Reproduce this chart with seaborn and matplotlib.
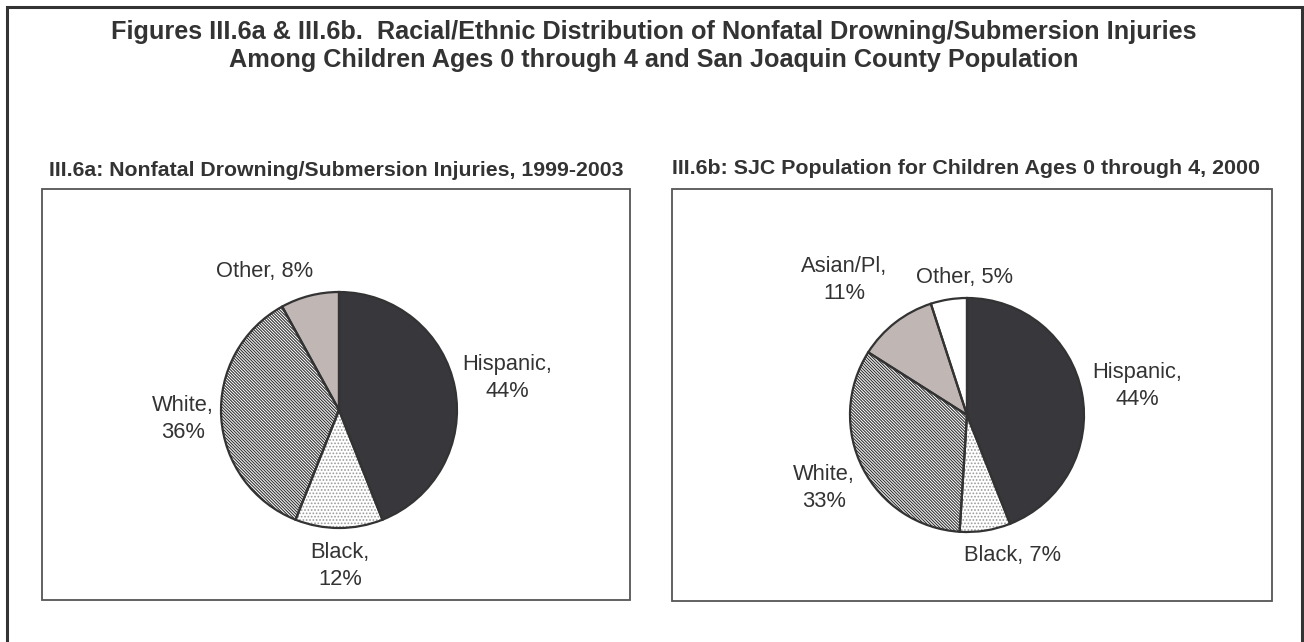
import matplotlib
matplotlib.use("Agg")
import matplotlib.pyplot as plt
from matplotlib.patches import Rectangle
import seaborn as sns

# ---- data ----
title_text = ("Figures III.6a & III.6b.  Racial/Ethnic Distribution of Nonfatal Drowning/Submersion Injuries\n"
              "Among Children Ages 0 through 4 and San Joaquin County Population")
sub_a = "III.6a: Nonfatal Drowning/Submersion Injuries, 1999-2003"
sub_b = "III.6b: SJC Population for Children Ages 0 through 4, 2000"

cats_a = ["Hispanic", "Black", "White", "Other"]
vals_a = [44, 12, 36, 8]
labels_a = ["Hispanic,\n44%", "Black,\n12%", "White,\n36%", "Other, 8%"]

cats_b = ["Hispanic", "Black", "White", "Asian/PI", "Other"]
vals_b = [44, 7, 33, 11, 5]
labels_b = ["Hispanic,\n44%", "Black, 7%", "White,\n33%", "Asian/Pl,\n11%", "Other, 5%"]

# ---- styles ----
sns.set_theme(style="white")
plt.rcParams["font.family"] = ["Liberation Sans", "DejaVu Sans"]
plt.rcParams["hatch.linewidth"] = 0.8

DARK = "#38373c"
TAN = "#c0b7b4"
EDGE = "#333333"
TXT = "#333333"

style = {
    "Hispanic": dict(face=DARK, hatch=None, hc=DARK),
    "Black": dict(face="white", hatch="." * 5, hc="#9a9a9a"),
    "White": dict(face="white", hatch="\\" * 11, hc="#333333"),
    "Asian/PI": dict(face=TAN, hatch=None, hc=TAN),
    "Other_a": dict(face=TAN, hatch=None, hc=TAN),
    "Other_b": dict(face="white", hatch=None, hc="white"),
}

W, H = 1304, 642
fig = plt.figure(figsize=(W / 100, H / 100), dpi=100)
ax = fig.add_axes([0, 0, 1, 1])


def Y(y):
    return H - y


def draw_pie(cats, vals, keys, cx, cy, r):
    faces = [style[k]["face"] for k in keys]
    wedges, _ = ax.pie(vals, colors=faces, startangle=90, counterclock=False,
                       center=(cx, Y(cy)), radius=r,
                       wedgeprops=dict(linewidth=0))
    for w, k in zip(wedges, keys):
        st = style[k]
        w.set_edgecolor(st["hc"])
        w.set_linewidth(0)
        if st["hatch"]:
            w.set_hatch(st["hatch"])
    ax.pie(vals, colors=["none"] * len(vals), startangle=90, counterclock=False,
           center=(cx, Y(cy)), radius=r,
           wedgeprops=dict(linewidth=1.6, edgecolor=EDGE, fill=False))


keys_a = ["Hispanic", "Black", "White", "Other_a"]
keys_b = ["Hispanic", "Black", "White", "Asian/PI", "Other_b"]
draw_pie(cats_a, vals_a, keys_a, 339, 410, 118)
draw_pie(cats_b, vals_b, keys_b, 967, 415, 117)

ax.set_xlim(0, W)
ax.set_ylim(0, H)
ax.set_aspect("auto")
ax.axis("off")

# frames
ax.add_patch(Rectangle((7, Y(700)), 1295, 693, fill=False, edgecolor=EDGE, linewidth=2.2, clip_on=False))
ax.add_patch(Rectangle((42, Y(600)), 588, 411, fill=False, edgecolor="#555555", linewidth=1.3))
ax.add_patch(Rectangle((672, Y(601)), 600, 412, fill=False, edgecolor="#555555", linewidth=1.3))

# texts
fig.canvas.draw()
renderer = fig.canvas.get_renderer()


def fit(t, target):
    bb = t.get_window_extent(renderer)
    t.set_fontsize(t.get_fontsize() * target / bb.width)


t = ax.text(654, Y(46), title_text, ha="center", va="center", fontsize=14,
            fontweight="bold", color=TXT, linespacing=1.25)
fit(t, 1090)
s1 = ax.text(336, Y(170), sub_a, ha="center", va="center", fontsize=11,
             fontweight="bold", color=TXT)
fit(s1, 574)
s2 = ax.text(966, Y(168), sub_b, ha="center", va="center", fontsize=11,
             fontweight="bold", color=TXT)
fit(s2, 588)

probe = ax.text(0, 0, "Hispanic,", fontsize=15)
bbp = probe.get_window_extent(renderer)
lab_fs = 15 * 90 / bbp.width
probe.remove()

pos_a = [(507, 378), (340, 566), (183, 419), (265, 272)]
pos_b = [(1137, 386), (1013, 555), (824, 488), (844, 280), (964, 277)]
for lab, (x, y) in zip(labels_a, pos_a):
    ax.text(x, Y(y), lab, ha="center", va="center", fontsize=lab_fs, color=TXT,
            linespacing=1.35)
for lab, (x, y) in zip(labels_b, pos_b):
    ax.text(x, Y(y), lab, ha="center", va="center", fontsize=lab_fs, color=TXT,
            linespacing=1.35)

fig.savefig("out.png", dpi=100)
